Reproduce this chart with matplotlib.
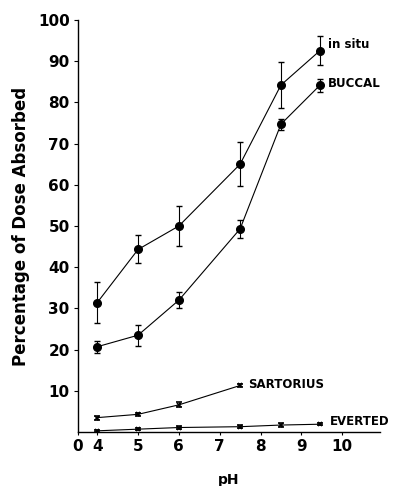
import matplotlib.pyplot as plt

plt.rcParams['font.family'] = ['DejaVu Sans']

# pH values and % dose absorbed
ph = [4, 5, 6, 7.5, 8.5, 9.45]
in_situ = [31.4, 44.3, 50.0, 65.0, 84.2, 92.5]
in_situ_err = [5.0, 3.4, 4.8, 5.4, 5.5, 3.5]
buccal = [20.7, 23.5, 32.0, 49.3, 74.7, 84.1]
buccal_err = [1.4, 2.5, 2.0, 2.2, 1.3, 1.5]

ph_sart = [4, 5, 6, 7.5]
sartorius = [3.5, 4.3, 6.6, 11.3]
sartorius_err = [0.5, 0.4, 0.6, 0.4]

ph_ev = [4, 5, 6, 7.5, 8.5, 9.45]
everted = [0.3, 0.7, 1.1, 1.3, 1.7, 1.9]
everted_err = [0.3, 0.3, 0.3, 0.4, 0.4, 0.3]

xticks = [3.53, 4, 5, 6, 7, 8, 9, 10]
xticklabels = ['0', '4', '5', '6', '7', '8', '9', '10']
yticks = [10, 20, 30, 40, 50, 60, 70, 80, 90, 100]

fig = plt.figure(figsize=(3.96, 4.86), dpi=100)
ax = fig.add_axes([0.197, 0.111, 0.763, 0.848])

ax.errorbar(ph, in_situ, yerr=in_situ_err, color='black', marker='o', ms=5.5,
            lw=0.8, elinewidth=0.8, capsize=2.5)
ax.errorbar(ph, buccal, yerr=buccal_err, color='black', marker='o', ms=5.5,
            lw=0.8, elinewidth=0.8, capsize=2.5)
ax.errorbar(ph_sart, sartorius, yerr=sartorius_err, color='black', marker='x', ms=3.5,
            mew=1.2, lw=0.8, elinewidth=0.8, capsize=2)
ax.errorbar(ph_ev, everted, yerr=everted_err, color='black', marker='x', ms=3.5,
            mew=1.2, lw=0.8, elinewidth=0.8, capsize=2)

ax.text(9.65, in_situ[-1] + 1.5, 'in situ', fontsize=8.5, fontweight='bold', va='center')
ax.text(9.65, buccal[-1] + 0.5, 'BUCCAL', fontsize=8.5, fontweight='bold', va='center')
ax.text(7.7, sartorius[-1] + 0.3, 'SARTORIUS', fontsize=8.5, fontweight='bold', va='center')
ax.text(9.7, everted[-1] + 0.6, 'EVERTED', fontsize=8.5, fontweight='bold', va='center')

ax.set_xlim(3.53, 10.93)
ax.set_ylim(0, 100)
ax.set_xticks(xticks)
ax.set_xticklabels(xticklabels, fontsize=11, fontweight='bold')
ax.set_yticks(yticks)
ax.set_yticklabels([str(v) for v in yticks], fontsize=11, fontweight='bold')
ax.tick_params(axis='both', direction='out', length=3, width=0.8, pad=3)
ax.tick_params(axis='x', length=2)

for side in ['top', 'right']:
    ax.spines[side].set_visible(False)
ax.spines['left'].set_linewidth(1.0)
ax.spines['bottom'].set_linewidth(1.0)

ax.set_xlabel('pH', fontsize=10, fontweight='bold', labelpad=14)
ax.set_ylabel('Percentage of Dose Absorbed', fontsize=12, fontweight='bold', labelpad=6)

fig.savefig('out.png', dpi=100)
